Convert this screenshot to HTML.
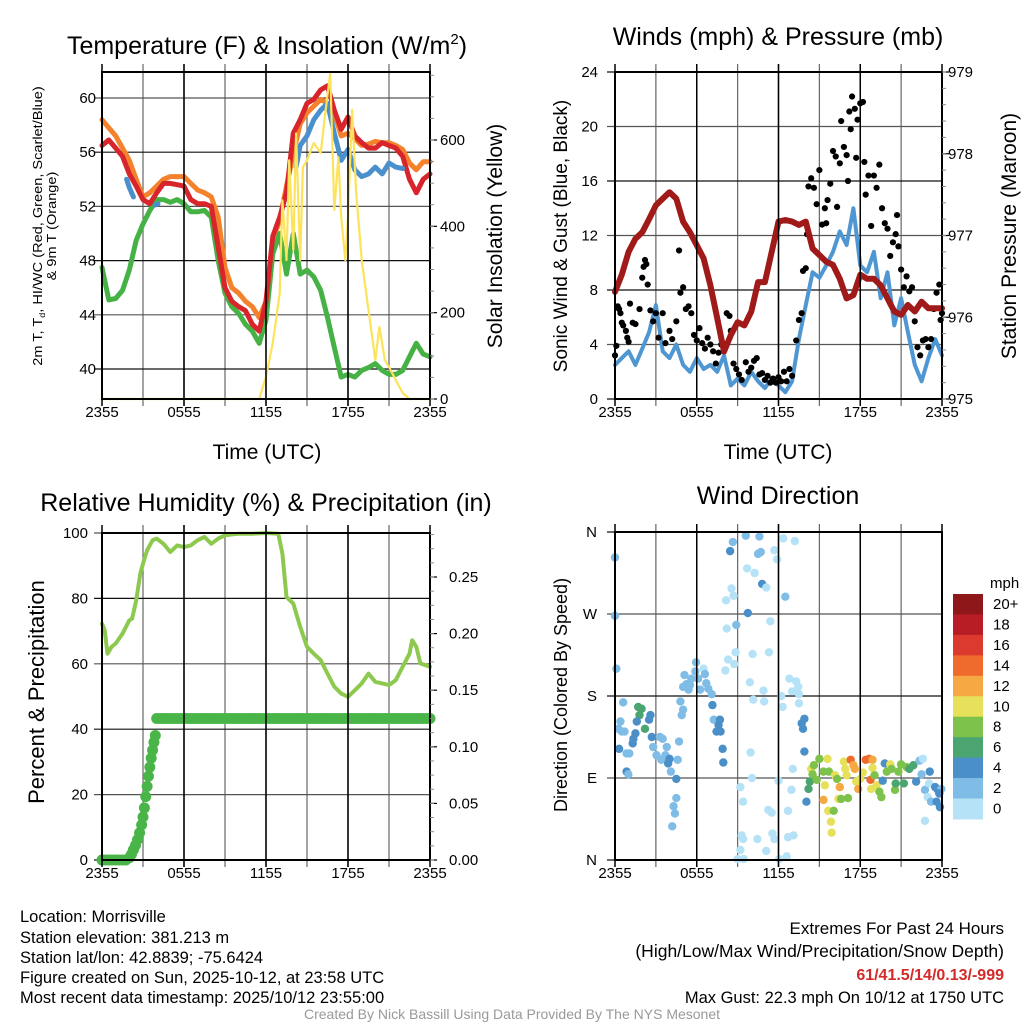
<!DOCTYPE html>
<html><head><meta charset="utf-8"><style>
html,body{margin:0;padding:0;background:#fff;}
svg{display:block;font-family:"Liberation Sans",sans-serif;}
</style></head><body>
<svg id="fig" width="1024" height="1024" viewBox="0 0 1024 1024" xmlns="http://www.w3.org/2000/svg">
<g id="layer-grid"></g><g id="layer-data"></g><g id="layer-axes"></g>
<text x="267" y="54" font-size="25" text-anchor="middle">Temperature (F) &amp; Insolation (W/m<tspan dy="-10" font-size="15">2</tspan><tspan dy="10">)</tspan></text>
<text x="778" y="45" font-size="25" text-anchor="middle">Winds (mph) &amp; Pressure (mb)</text>
<text x="266" y="511" font-size="25" text-anchor="middle">Relative Humidity (%) &amp; Precipitation (in)</text>
<text x="778" y="504" font-size="25" text-anchor="middle">Wind Direction</text>
<text transform="translate(42,226) rotate(-90) scale(1.12,1)" font-size="13" text-anchor="middle">2m T, T<tspan dy="3" font-size="8">d</tspan><tspan dy="-3">, HI/WC (Red, Green, Scarlet/Blue)</tspan></text>
<text transform="translate(56,226) rotate(-90) scale(1.12,1)" font-size="13" text-anchor="middle">&amp; 9m T (Orange)</text>
<text transform="translate(502,236) rotate(-90)" font-size="21" text-anchor="middle">Solar Insolation (Yellow)</text>
<text x="267" y="459" font-size="21" text-anchor="middle">Time (UTC)</text>
<text transform="translate(567,236) rotate(-90)" font-size="19" text-anchor="middle">Sonic Wind &amp; Gust (Blue, Black)</text>
<text transform="translate(1016,236) rotate(-90)" font-size="21" text-anchor="middle">Station Pressure (Maroon)</text>
<text x="778" y="459" font-size="21" text-anchor="middle">Time (UTC)</text>
<text transform="translate(44,692) rotate(-90)" font-size="22" text-anchor="middle">Percent &amp; Precipitation</text>
<text transform="translate(567,695) rotate(-90)" font-size="18" text-anchor="middle">Direction (Colored By Speed)</text>
<text x="990" y="588" font-size="15">mph</text>
<g fill="#000">
<text x="20" y="922" font-size="16.5">Location: Morrisville</text>
<text x="20" y="943" font-size="16.5">Station elevation: 381.213 m</text>
<text x="20" y="963" font-size="16.5">Station lat/lon: 42.8839; -75.6424</text>
<text x="20" y="983" font-size="16.5">Figure created on Sun, 2025-10-12, at 23:58 UTC</text>
<text x="20" y="1003" font-size="16.5">Most recent data timestamp: 2025/10/12 23:55:00</text>
<text x="1004" y="934" text-anchor="end" font-size="17">Extremes For Past 24 Hours</text>
<text x="1004" y="957" text-anchor="end" font-size="17.5">(High/Low/Max Wind/Precipitation/Snow Depth)</text>
<text x="1004" y="980" text-anchor="end" font-size="16" font-weight="bold" fill="#d42a2a">61/41.5/14/0.13/-999</text>
<text x="1004" y="1003" text-anchor="end" font-size="16.5">Max Gust: 22.3 mph On 10/12 at 1750 UTC</text>
<text x="512" y="1019" text-anchor="middle" font-size="14" fill="#999">Created By Nick Bassill Using Data Provided By The NYS Mesonet</text>
</g>
</svg>
<script>
// ---------- data ----------
const hoursHalf = [0,0.5,1,1.5,2,2.5,3,3.5,4,4.5,5,5.5,6,6.5,7,7.5,8,8.5,9,9.5,10,10.5,11,11.5,12,12.5,13,13.5,14,14.5,15,15.5,16,16.5,17,17.5,18,18.5,19,19.5,20,20.5,21,21.5,22,22.5,23,23.5,24];
const tempRed = [56.5,56.9,56.3,55.7,54.4,53.5,52.5,52.2,53,53.7,53.7,53.6,53.5,52.5,52.2,52.2,52,49,46,45,44.6,44.3,43.3,42.8,45,49.8,51.2,53,57.4,58.4,59.6,59.9,60.6,60.9,59.1,57.7,58.6,57.2,56.7,56.3,56.3,56.7,56.5,56.3,55.7,54,53,54,54.4];
const tempOrange = [58.4,57.8,57.2,56.3,55.4,54,52.7,53,53.5,54,54.2,54.2,54.2,53.7,53.2,53,52.7,51.2,47.5,46,45.6,45,44.6,43.8,45,49.5,51,53.5,55.9,58.1,58.9,59.4,59.9,59.6,58.9,57.2,57.4,57,56.5,56.6,56.8,56.7,56.7,56.5,56.2,55.2,54.7,55.3,55.3];
const tempDew = [47.5,45.1,45.2,45.8,47.3,49.5,50.7,51.7,52.5,52.5,52.3,52.5,52.2,51.6,51.6,51.7,51.2,48,45.6,44.6,44.1,43.3,42.8,41.9,43.6,48.5,50,47,50,47,47.3,46.8,45.8,43.8,41.6,39.4,39.6,39.4,39.9,40.1,40.4,39.9,39.6,39.6,39.9,40.9,41.9,41.1,40.9];
const hiwcTimes = [1.8,2.0,2.3,null,3.9,4.1,null,14.2,14.5,15,15.5,16,16.5,17,17.5,18,18.5,19,19.5,20,20.5,21,21.5,22];
const hiwcValues = [54,53.4,52.7,null,52.1,52.2,null,54.9,56.5,57.2,58.4,59.1,59.6,57.4,55.4,56.2,54.7,54.2,54.4,54.9,54.4,55.2,54.9,54.8];
const solarTimes = [0,11.5,12,12.5,13,13.2,13.5,13.7,14,14.2,14.5,14.7,15,15.5,16,16.3,16.7,17,17.3,17.5,17.8,18,18.3,18.6,19,19.5,20,20.3,20.7,21,21.5,22,22.5,24];
const solarValues = [0,0,52,130,245,460,322,553,345,615,322,537,553,593,570,653,755,438,560,422,322,420,670,477,322,206,90,167,90,74,44,14,0,0];
const pressure = [976.31,976.52,976.8,976.96,977.04,977.2,977.37,977.45,977.53,977.45,977.17,977.04,976.88,976.72,976.39,975.99,975.58,975.78,975.94,975.9,976.07,976.43,976.43,976.8,977.17,977.19,977.17,977.13,977.17,976.84,976.76,976.68,976.64,976.47,976.23,976.27,976.52,976.47,976.47,976.39,976.23,976.07,976.03,976.15,976.07,976.19,976.11,976.11,976.11];
const sonicWind = [2.5,3,3.5,2.5,3.7,4.9,6.9,3.5,3,4,2.5,2,3,2.2,2.5,2,3.2,1,1.5,1,2,1.3,0.8,1.5,1,0.5,1.3,4.4,6.9,9.3,8.9,9.8,10.8,12.3,11.3,14,9.8,9.3,10.8,7.4,9.3,5.4,7.4,4.9,2.5,1.3,3,4.4,3.2];
const gustTimes = [0,0.1,0.2,0.3,0.4,0.5,0.6,0.8,0.9,1,1.1,1.3,1.5,1.8,2,2.1,2.2,2.3,2.4,2.6,2.8,3,3.2,3.5,3.7,4,4.2,4.5,4.7,4.8,5,5.2,5.4,5.6,5.8,6,6.2,6.4,6.6,6.8,7,7.2,7.4,7.6,7.8,8,8.2,8.4,8.5,8.7,8.9,9.1,9.3,9.6,9.8,10,10.2,10.4,10.6,10.8,11,11.2,11.4,11.6,11.8,12,12.2,12.4,12.6,12.8,13,13.3,13.5,13.7,13.8,14,14.1,14.2,14.4,14.6,14.8,15,15.2,15.4,15.5,15.6,15.8,16,16.2,16.3,16.5,16.6,16.8,17,17.1,17.2,17.3,17.4,17.6,17.7,17.8,18,18.2,18.3,18.4,18.6,18.8,19,19.2,19.4,19.6,19.8,20,20.2,20.4,20.6,20.7,20.8,21,21.2,21.4,21.6,21.8,22,22.2,22.4,22.6,22.8,23,23.2,23.4,23.6,23.8,23.9,24];
const gustValues = [3.2,3.9,6.8,6.6,6.3,5.6,5.4,5,4.5,4.2,7,5.6,5.5,6.6,8.9,9.7,10.2,9.9,8.4,6.5,5.7,6.3,4.5,6.3,4.1,5,4.4,5.7,10.9,7.8,8.2,6.6,6.8,6.3,4.7,4.3,5.2,4.1,3.7,4.5,4,3.5,2.6,3.4,4,3.8,6.3,6.1,5,2.6,2.2,1.8,1.4,2.7,2,2.3,2.8,3,1.8,1.9,1.4,1.7,1.2,1.5,1.2,1.6,1.3,2,1.3,2.2,1.7,4.3,5.8,6.3,9.4,9.6,12.1,15.6,16.2,15.5,14.3,16.8,12.8,14,12.9,14.6,15.8,18.2,17.8,14.1,17.3,20.4,18.5,17.9,16,21.1,19.8,22.2,21.3,17.7,20.5,21.7,21.8,17.4,15,16.4,12.7,16.4,15.5,17.2,14,12.9,12.5,10.5,11.5,12.1,13.5,11.2,9.5,8.2,9,7.9,8.2,5.7,3.8,3.2,4.3,4.4,3.8,4.4,6.6,7.8,8.4,5.8,6.3];
const rhTimes = [0,0.2,0.4,0.7,1,1.5,2,2.2,2.5,2.8,3,3.3,3.7,4,4.5,5,5.5,6,6.5,7,7.5,8,8.5,9,10,11,12,12.9,13.2,13.5,14,14.5,15,15.5,16,16.5,17,17.5,18,18.5,19,19.5,20,20.5,21,21.5,22,22.5,22.7,23,23.3,24];
const rhValues = [72.3,70.3,63.1,65.2,66.2,69.2,73.3,73.8,79.4,87.6,90.6,94.7,97.8,98.3,96.7,94.2,96.2,95.7,96.2,97.8,98.8,96.7,98.3,99.3,99.8,99.8,100,99.8,93.7,80.4,78.4,71.3,65.2,63.1,61.1,57,53,50.9,49.9,51.9,54,57,54.5,54,53.5,55,59.1,63.1,67.2,65.2,60.1,59.1];
const precipTimes = [0,0.25,0.5,0.75,1,1.25,1.5,1.75,2,2.15,2.3,2.45,2.6,2.75,2.9,3.0,3.1,3.2,3.3,3.4,3.5,3.6,3.7,3.8,3.9,4.0,4.25,4.5,4.75,5,5.25,5.5,5.75,6,6.25,6.5,6.75,7,7.25,7.5,7.75,8,8.25,8.5,8.75,9,9.25,9.5,9.75,10,10.25,10.5,10.75,11,11.25,11.5,11.75,12,12.25,12.5,12.75,13,13.25,13.5,13.75,14,14.25,14.5,14.75,15,15.25,15.5,15.75,16,16.25,16.5,16.75,17,17.25,17.5,17.75,18,18.25,18.5,18.75,19,19.25,19.5,19.75,20,20.25,20.5,20.75,21,21.25,21.5,21.75,22,22.25,22.5,22.75,23,23.25,23.5,23.75,24];
const precipValues = [0,0,0,0,0,0,0,0,0.002,0.005,0.009,0.013,0.018,0.024,0.031,0.038,0.046,0.056,0.065,0.074,0.082,0.09,0.097,0.104,0.11,0.125,0.125,0.125,0.125,0.125,0.125,0.125,0.125,0.125,0.125,0.125,0.125,0.125,0.125,0.125,0.125,0.125,0.125,0.125,0.125,0.125,0.125,0.125,0.125,0.125,0.125,0.125,0.125,0.125,0.125,0.125,0.125,0.125,0.125,0.125,0.125,0.125,0.125,0.125,0.125,0.125,0.125,0.125,0.125,0.125,0.125,0.125,0.125,0.125,0.125,0.125,0.125,0.125,0.125,0.125,0.125,0.125,0.125,0.125,0.125,0.125,0.125,0.125,0.125,0.125,0.125,0.125,0.125,0.125,0.125,0.125,0.125,0.125,0.125,0.125,0.125,0.125,0.125,0.125,0.125,0.125];
const dirTimes = [0,0,0.1,0.6,0.4,0.25,0.5,0.7,0.3,0.85,1.05,0.85,0.98,1.35,1.3,1.5,1.7,1.95,1.8,2.2,1.6,2.6,2.5,2.7,2.8,3.05,3.3,3.5,3.8,3.7,3.4,4,3.9,4.1,4.5,4.6,4.7,4.8,5,4.9,4.5,4.3,4.4,4.2,5.1,5,5.25,5.5,5.4,5.6,5.95,5.9,6.1,6.25,6.5,6.6,6.7,6.85,7.1,7.15,7.25,7.6,7.7,7.45,7.75,7.9,7.95,8.1,8.3,8.55,8.7,8.15,8.45,8.65,8.2,8.9,8.85,8.75,9.2,9.4,9.3,9.4,9.2,9,9.45,9.6,9.75,9.7,10.1,10.25,9.9,10.15,9.95,10.05,10.45,10.6,10.5,10.7,10.8,11.1,10.9,10.95,11.25,11.5,11.55,11.7,11.1,11.4,11.3,11.7,11.9,12,12.05,12.6,12.2,12.3,12.35,12.5,12.7,12.7,12.8,13,13.05,13.1,13.2,13.3,13.45,13.5,13.5,12.95,13.7,13.8,13.9,13.9,14.05,14.2,14.3,14.4,14.6,14.5,14.8,15,15.3,15.4,15.6,15.7,15.3,15.65,15.85,15.9,16.05,16.15,16.3,16.5,16.4,16.6,16.8,16.9,17,17.1,17.3,17.5,17.6,17.7,17.85,18,18.2,18.4,18.65,18.9,18.75,18.9,18.8,19.05,19.2,19.4,19.55,19.65,19.8,19.95,20.2,20.3,20.55,20.6,20.8,21,21.2,21.4,21.6,21.9,22.1,22.35,22.6,22.5,22.75,22.95,23.1,23.05,22.75,23.2,23.5,23.7,23.6,23.85,23.95,23.8];
const dirDegrees = [332,268,210,173,152,144,141,141,122,117,117,97,94,133,128,139,168,166,159,144,152,159,154,135,124,115,135,133,124,115,110,111,106,97,89,110,130,174,165,159,68,59,51,37,203,190,193,192,187,199,217,207,199,187,210,204,194,188,182,170,154,148,154,141,141,122,107,208,220,298,290,285,339,349,254,258,228,215,80,64,27,23,11,1,1,356,271,320,226,315,195,176,118,90,23,355,336,338,303,299,186,174,55,52,29,23,10,262,228,340,330,87,1,4,180,168,353,289,25,54,199,185,100,27,350,196,190,182,172,77,150,144,155,119,64,78,86,100,104,94,88,111,97,82,111,97,66,54,42,30,54,93,89,80,67,67,108,100,93,68,110,104,100,86,78,89,96,110,111,110,88,101,78,93,82,75,69,87,106,97,105,100,77,84,97,105,84,102,100,104,86,109,111,94,77,69,97,84,43,64,80,77,64,58,78,73];
const dirSpeedClass = [1,1,1,1,1,1,1,1,2,1,1,2,1,2,2,2,3,3,3,3,2,2,2,2,1,1,1,1,1,1,1,2,2,1,2,1,1,1,1,1,1,1,1,1,1,1,1,1,1,1,1,1,1,1,0,1,1,1,1,2,1,2,2,2,2,2,2,0,0,0,0,0,2,1,0,1,0,0,0,0,0,0,0,0,0,1,2,0,0,0,0,0,0,0,0,1,1,1,2,0,0,0,0,0,0,0,0,0,0,0,0,0,0,0,0,0,0,1,0,0,0,0,0,0,0,0,0,0,0,0,2,2,2,2,2,3,3,5,4,4,4,4,4,5,5,4,6,5,5,5,4,5,4,6,5,4,5,5,5,4,7,6,6,5,6,5,5,7,7,6,7,5,5,4,5,4,4,2,2,4,5,4,4,3,4,4,3,4,3,3,2,1,0,1,1,0,2,0,0,1,2,2,2,2,1,2];
const speedColors = ["#b5e2f6","#80bde6","#4a8fc8","#4ba571","#7cc24b","#e6e05b","#f6a943","#ef6a2d","#dc3a2e","#b81d25","#8e1719"];
const speedLabels = ["0","2","4","6","8","10","12","14","16","18","20+"];
const timeTickLabels = ["2355","0555","1155","1755","2355"];
const tempTicks = [40,44,48,52,56,60];
const solarTicks = [0,200,400,600];
const windTicks = [0,4,8,12,16,20,24];
const pressureTicks = [975,976,977,978,979];
const rhTicks = [0,20,40,60,80,100];
const precipTicks = [0,0.05,0.10,0.15,0.20,0.25];
const dirTicks = [0,90,180,270,360];
const dirTickLabels = ["N","E","S","W","N"];

// ---------- helpers ----------
const NS = "http://www.w3.org/2000/svg";
const gGrid = document.getElementById("layer-grid");
const gData = document.getElementById("layer-data");
const gAxes = document.getElementById("layer-axes");
function mk(tag, parent, attrs){ const e=document.createElementNS(NS,tag); for(const k in attrs) e.setAttribute(k,attrs[k]); parent.appendChild(e); return e; }
function lin(d0,d1,r0,r1){ return v => r0 + (v-d0)/(d1-d0)*(r1-r0); }
function pathFrom(xs, ys, fx, fy){ let d="", pen=false; for(let i=0;i<xs.length;i++){ if(xs[i]===null||ys[i]===null){pen=false;continue;} d += (pen?"L":"M")+fx(xs[i]).toFixed(1)+","+fy(ys[i]).toFixed(1); pen=true;} return d; }

function panelFrame(name, x0,x1,y0,y1){
  const fx = lin(0,24,x0,x1);
  for(let h=3; h<24; h+=3){
    const l = mk("line", gGrid, {x1:fx(h),x2:fx(h),y1:y0-8,y2:y1+7,stroke:(h%6===0?"#111":"#666"),"stroke-width":1.2});
    
    
  }
  const r = mk("rect", gAxes, {x:x0,y:y0,width:x1-x0,height:y1-y0,fill:"none",stroke:"#000","stroke-width":2});
  
  
  for(let i=0;i<timeTickLabels.length;i++){
    const t = mk("text", gAxes, {x:fx(i*6),y:y1+18,"font-size":15,"text-anchor":"middle"});
    t.textContent = timeTickLabels[i];
    
    
    const tk = mk("line", gAxes, {x1:fx(i*6),x2:fx(i*6),y1:y0-8,y2:y1+7,stroke:"#000","stroke-width":1.5});
    
    
  }
  return fx;
}
function leftAxis(name, ticks, labels, fy, x0, x1, labelX){
  for(let i=0;i<ticks.length;i++){
    const y = fy(ticks[i]);
    const l = mk("line", gGrid, {x1:x0-8,x2:x1,y1:y,y2:y,stroke:(i%2===0?"#111":"#555"),"stroke-width":1.2});
    
    
    const t = mk("text", gAxes, {x:labelX,y:y+5,"font-size":15,"text-anchor":"end"});
    t.textContent = labels[i];
    
    
  }
}
function rightAxis(name, ticks, labels, fy, x1, labelX, minorStep, dmin, dmax){
  for(let i=0;i<ticks.length;i++){
    const y = fy(ticks[i]);
    const tk = mk("line", gAxes, {x1:x1,x2:x1+7,y1:y,y2:y,stroke:"#000","stroke-width":1.2});
    
    
    const t = mk("text", gAxes, {x:labelX,y:y+5,"font-size":15,"text-anchor":"start"});
    t.textContent = labels[i];
    
    
  }
  for(let v=dmin; v<=dmax+1e-9; v+=minorStep){
    const y = fy(v);
    const tk = mk("line", gAxes, {x1:x1,x2:x1+4,y1:y,y2:y,stroke:"#888","stroke-width":1});
    
    
  }
}
function line(name, xs, ys, fx, fy, color, w){
  const p = mk("path", gData, {d:pathFrom(xs,ys,fx,fy),fill:"none",stroke:color,"stroke-width":w,"stroke-linejoin":"round","stroke-linecap":"round"});
  
  
}

// ---------- Panel 1: temperature ----------
{
  const x0=102,x1=430,y0=72,y1=399;
  const fx = panelFrame("temp-panel",x0,x1,y0,y1);
  const fy = lin(40,60,369,98);
  const fs = lin(0,600,399,140);
  leftAxis("temp-panel", tempTicks, tempTicks.map(String), fy, x0, x1, 96);
  rightAxis("temp-panel", solarTicks, solarTicks.map(String), fs, x1, 440, 50, 0, 750);
  line("temp-9m-orange-line", hoursHalf, tempOrange, fx, fy, "#f4812c", 5);
  line("dewpoint-green-line", hoursHalf, tempDew, fx, fy, "#46b145", 5);
  line("temp-2m-red-line", hoursHalf, tempRed, fx, fy, "#d7252b", 5);
  line("heat-index-blue-line", hiwcTimes, hiwcValues, fx, fy, "#4a90cd", 5);
  line("solar-insolation-yellow-line", solarTimes, solarValues, fx, fs, "#fde35b", 2.2);
}
// ---------- Panel 2: winds ----------
{
  const x0=615,x1=942,y0=72,y1=399;
  const fx = panelFrame("wind-panel",x0,x1,y0,y1);
  const fy = lin(0,24,399,72);
  const fp = lin(975,979,399,72);
  leftAxis("wind-panel", windTicks, windTicks.map(String), fy, x0, x1, 598);
  rightAxis("wind-panel", pressureTicks, pressureTicks.map(String), fp, x1, 948, 0.2, 975, 979);
  line("sonic-wind-blue-line", hoursHalf, sonicWind, fx, fy, "#4f97d2", 4);
  for(let i=0;i<gustTimes.length;i++){
    const c = mk("circle", gData, {cx:fx(gustTimes[i]),cy:fy(gustValues[i]),r:3.1,fill:"#000"});
    
    
  }
  line("station-pressure-maroon-line", hoursHalf, pressure, fx, fp, "#a11a1a", 6);
}
// ---------- Panel 3: RH & precip ----------
{
  const x0=102,x1=430,y0=533,y1=860;
  const fx = panelFrame("rh-panel",x0,x1,y0,y1);
  const fy = lin(0,100,860,533);
  const fp = lin(0,0.25,860,577);
  leftAxis("rh-panel", rhTicks, rhTicks.map(String), fy, x0, x1, 88);
  rightAxis("rh-panel", precipTicks, precipTicks.map(v=>v.toFixed(2)), fp, x1, 449, 0.0125, 0, 0.2875);
  line("relative-humidity-line", rhTimes, rhValues, fx, fy, "#8ec94f", 4);
  for(let i=0;i<precipTimes.length;i++){
    const c = mk("circle", gData, {cx:fx(precipTimes[i]),cy:fp(precipValues[i]),r:5.5,fill:"#49b548"});
    
    
  }
}
// ---------- Panel 4: wind direction ----------
{
  const x0=615,x1=942,y0=532,y1=860;
  const fx = panelFrame("direction-panel",x0,x1,y0,y1);
  const fy = lin(0,360,860,532);
  leftAxis("direction-panel", dirTicks, dirTickLabels, fy, x0, x1, 597);
  for(let i=0;i<dirTimes.length;i++){
    const c = mk("circle", gData, {cx:fx(dirTimes[i]),cy:fy(dirDegrees[i]),r:4.2,fill:speedColors[dirSpeedClass[i]]});
    
    
  }
  const cbTop=594, cbH=20.45;
  for(let k=0;k<speedColors.length;k++){
    const idx = speedColors.length-1-k;
    const r = mk("rect", gAxes, {x:953,y:cbTop+k*cbH,width:30,height:cbH+0.5,fill:speedColors[idx]});
    
    
    const t = mk("text", gAxes, {x:993,y:cbTop+k*cbH+15,"font-size":15});
    t.textContent = speedLabels[idx];
    
    
  }
}
</script>
</body></html>
